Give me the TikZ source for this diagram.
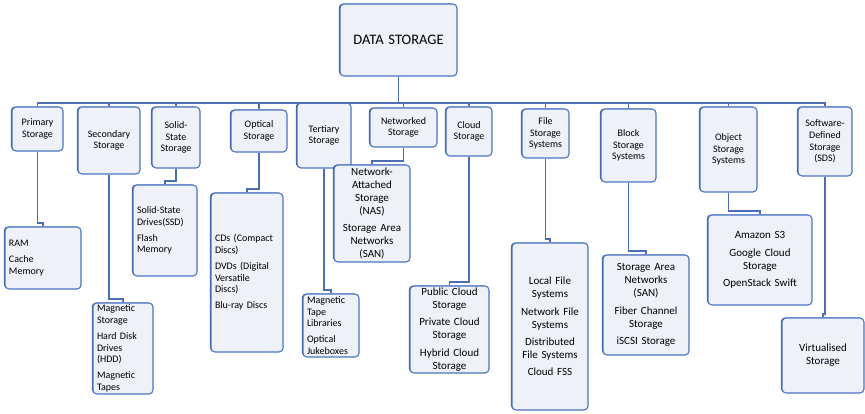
\documentclass[tikz,border=0pt]{standalone}
\usepackage{fontspec}
\setmainfont{Carlito}
\usetikzlibrary{shadows}
\definecolor{boxfill}{HTML}{EEF1F8}
\definecolor{boxline}{HTML}{4A74C4}
\definecolor{connline}{HTML}{4A6DB3}
\tikzset{
  box/.style={draw=boxline, fill=boxfill, line width=1.1pt, rounded corners=4pt,
    inner xsep=4pt, inner ysep=1pt,
    general shadow={shadow xshift=-1.1pt, shadow yshift=0.5pt, fill=boxline!75!black}},
  lone/.style={font=\fontsize{10}{11.7}\selectfont},
  ltwo/.style={font=\fontsize{11}{13}\selectfont},
  lroot/.style={font=\fontsize{14.5}{17}\selectfont},
  conn/.style={draw=connline, line width=1.1pt}
}
\newcommand\mybox[8]{%
  \pgfmathsetmacro\bw{#4-#2}\pgfmathsetmacro\bh{#5-#3}\pgfmathsetmacro\tw{#4-#2-8}%
  \node[box,#7,align=#6,minimum width=\bw pt,minimum height=\bh pt,text width=\tw pt]
    (#1) at ({(#2+#4)/2},{(#3+#5)/2}) {#8};}
\begin{document}
\begin{tikzpicture}[x=1pt,y=-1pt]
\useasboundingbox (0,0) rectangle (865,413);
% root
\mybox{root}{340}{4}{457}{76}{center}{lroot}{DATA STORAGE}
% level 1
\mybox{prim}{12}{107}{63}{151}{center}{lone}{Primary\\Storage}
\mybox{sec}{78}{107}{140}{174}{center}{lone}{Secondary\\Storage}
\mybox{ssd}{152}{107}{200}{168}{center}{lone}{Solid-\\State\\Storage}
\mybox{opt}{231}{110}{287}{152}{center}{lone}{Optical\\Storage}
\mybox{ter}{297}{103}{351}{168}{center}{lone}{Tertiary\\Storage}
\mybox{net}{370}{108}{437}{147}{center}{lone}{Networked\\Storage}
\mybox{cloud}{446}{107}{492}{156}{center}{lone}{Cloud\\Storage}
\mybox{file}{522}{109}{569}{158}{center}{lone}{File\\Storage\\Systems}
\mybox{block}{601}{109}{656}{182}{center}{lone}{Block\\Storage\\Systems}
\mybox{obj}{700}{107}{757}{192}{center}{lone}{Object\\Storage\\Systems}
\mybox{sds}{798}{107}{852}{176}{center}{lone}{Software-\\Defined\\Storage\\(SDS)}
% level 2
\mybox{ram}{5}{227}{81}{289}{left}{lone}{RAM\\[4.3pt]Cache\\Memory}
\mybox{mag}{93}{303}{153}{394}{left}{lone}{Magnetic\\Storage\\[4.3pt]Hard Disk\\Drives\\(HDD)\\[4.3pt]Magnetic\\Tapes}
\mybox{ssdc}{133}{185}{197}{276}{left}{lone}{Solid-State\\Drives(SSD)\\[4.3pt]Flash\\Memory}
\mybox{cd}{211}{193}{283}{352}{left}{lone}{CDs (Compact\\Discs)\\[4.3pt]DVDs (Digital\\Versatile\\Discs)\\[4.3pt]Blu-ray Discs}
\mybox{tape}{303}{294}{359}{357}{left}{lone}{Magnetic\\Tape\\Libraries\\[4.3pt]Optical\\Jukeboxes}
\mybox{nas}{334}{165}{410}{262}{center}{ltwo}{Network-\\Attached\\Storage\\(NAS)\\[4.3pt]Storage Area\\Networks\\(SAN)}
\mybox{pub}{410}{286}{489}{373}{center}{ltwo}{Public Cloud\\Storage\\[4.3pt]Private Cloud\\Storage\\[4.3pt]Hybrid Cloud\\Storage}
\mybox{fs}{512}{243}{588}{410}{center}{ltwo}{Local File\\Systems\\[4.3pt]Network File\\Systems\\[4.3pt]Distributed\\File Systems\\[4.3pt]Cloud FSS}
\mybox{san}{603}{255}{689}{355}{center}{ltwo}{Storage Area\\Networks\\(SAN)\\[4.3pt]Fiber Channel\\Storage\\[4.3pt]iSCSI Storage}
\mybox{s3}{708}{215}{812}{305}{center}{ltwo}{Amazon S3\\[4.3pt]Google Cloud\\Storage\\[4.3pt]OpenStack Swift}
\mybox{virt}{782}{318}{864}{393}{center}{ltwo}{Virtualised\\Storage}
% bus
\coordinate (bus) at (398,103);
\foreach \c in {prim,sec,ssd,opt,ter,net,cloud,file,block,obj,sds}
  \draw[conn] (root.south) |- (bus -| \c.north) -- (\c.north);
% level 2 connectors
\foreach \p/\c in {prim/ram,sec/mag,ssd/ssdc,opt/cd,ter/tape,net/nas,cloud/pub,file/fs,block/san,obj/s3,sds/virt}
  \draw[conn] (\p.south) |- ([yshift=3.5pt]\c.north) -- (\c.north);
\end{tikzpicture}
\end{document}
